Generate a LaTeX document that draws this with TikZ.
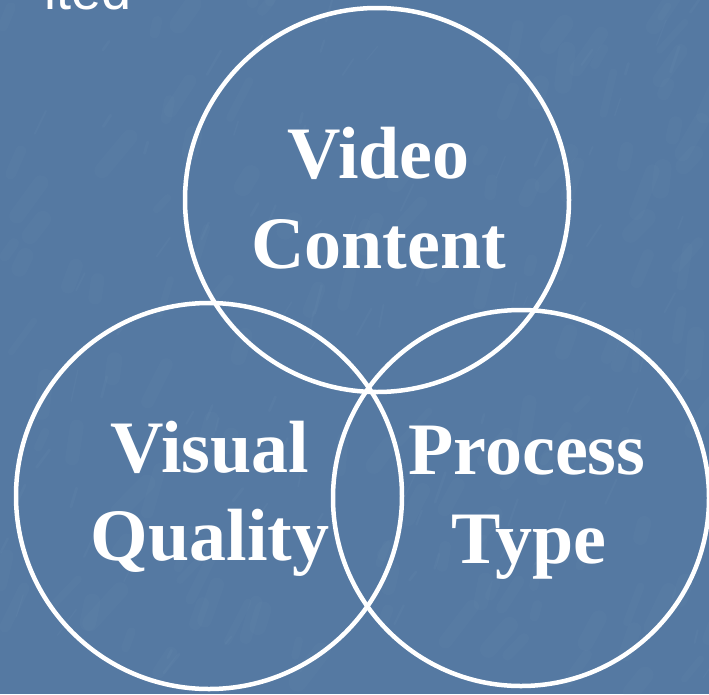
\documentclass[tikz,border=0pt]{standalone}
\usepackage{fontspec}
\setmainfont{Liberation Serif}
\newfontfamily\headsans{Liberation Sans}
\definecolor{slideblue}{RGB}{85,121,162}
\definecolor{streak}{RGB}{130,162,195}
\begin{document}
\begin{tikzpicture}[x=1pt,y=-1pt,
  ring/.style={circle, draw=white, line width=4.5pt, inner sep=0pt},
  lbl/.style={text=white, anchor=base, inner sep=0pt,
    font=\fontsize{74}{88}\selectfont\bfseries},
  headline/.style={text=white, anchor=base east, inner sep=0pt,
    font=\headsans\fontsize{54}{60}\selectfont},
]
% slide background
\fill[slideblue] (0,0) rectangle (709,694);
\useasboundingbox (0,0) rectangle (709,694);
% faint mottled texture
\pgfmathsetseed{4711}
\begin{scope}
\clip (0,0) rectangle (709,694);
\foreach \i in {1,...,140}{
  \pgfmathsetmacro{\px}{rnd*709}
  \pgfmathsetmacro{\py}{rnd*694}
  \pgfmathsetmacro{\len}{10+rnd*35}
  \pgfmathsetmacro{\ang}{-45-rnd*40}
  \pgfmathsetmacro{\lw}{6+rnd*12}
  \draw[streak, opacity=0.06, line width=\lw pt, line cap=round]
    (\px,\py) -- ++(\ang:\len);
}
\foreach \i in {1,...,90}{
  \pgfmathsetmacro{\px}{rnd*709}
  \pgfmathsetmacro{\py}{rnd*694}
  \pgfmathsetmacro{\len}{8+rnd*25}
  \pgfmathsetmacro{\ang}{-50-rnd*30}
  \pgfmathsetmacro{\lw}{1+rnd*2}
  \draw[streak, opacity=0.08, line width=\lw pt, line cap=round]
    (\px,\py) -- ++(\ang:\len);
}
\end{scope}
% heading text running off the top edge
\node[headline] (head) at (132,9) {ited};
% three overlapping rings
\node[ring, minimum size=384pt] (content) at (377,200) {};
\node[ring, minimum size=386pt] (quality) at (209,496) {};
\node[ring, minimum size=376pt] (process) at (521,498) {};
% ring labels
\node[lbl] (vc1) at (378.5,178) {Video};
\node[lbl] (vc2) at (378.5,268) {Content};
\node[lbl] (vq1) at (210,472) {Visual};
\node[lbl] (vq2) at (210,560) {Quality};
\node[lbl] (pt1) at (527,474) {Process};
\node[lbl] (pt2) at (529,563) {Type};
\end{tikzpicture}
\end{document}
